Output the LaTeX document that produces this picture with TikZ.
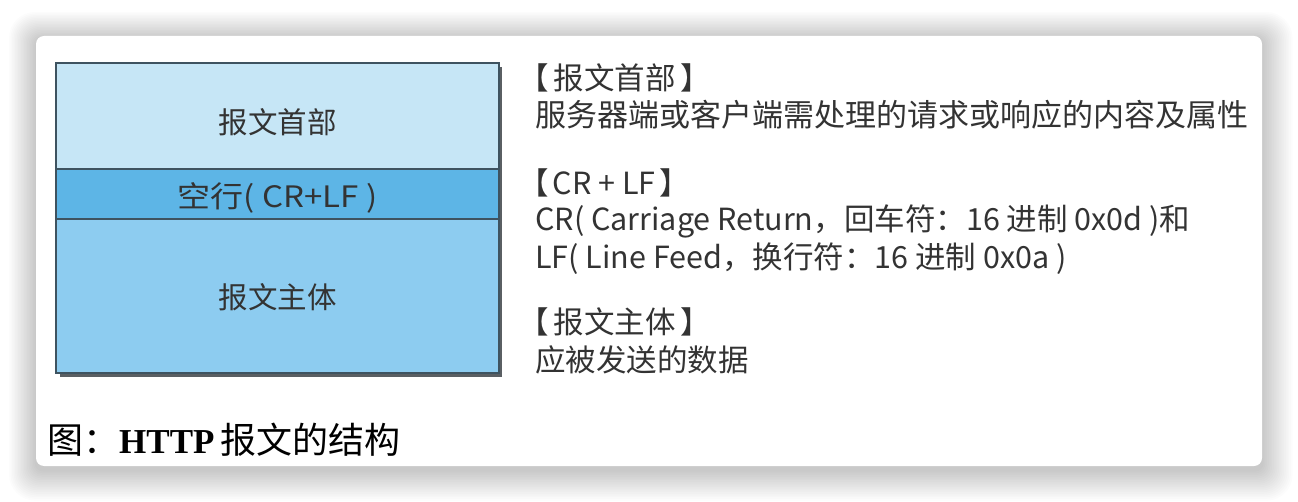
\documentclass[tikz,border=0pt]{standalone}
\usepackage{fontspec}
\setmainfont{Liberation Serif}
\newfontfamily\cjk{Noto Sans CJK SC}
\definecolor{hdrc}{HTML}{C6E6F6}
\definecolor{crlfc}{HTML}{5DB5E6}
\definecolor{bodyc}{HTML}{8DCCF0}
\definecolor{edgec}{HTML}{3E5360}
\definecolor{txtc}{HTML}{333333}
\definecolor{shadc}{HTML}{5A5F63}
\tikzset{
  part/.style={draw=edgec, line width=2pt, anchor=north west, minimum width=443pt,
    inner sep=0pt, text=txtc, font=\cjk\fontsize{29.5}{32}\selectfont},
  desc/.style={anchor=west, inner sep=0pt, text=txtc, font=\cjk\fontsize{30.5}{33}\selectfont},
}
\newcommand{\lowerby}[2]{\raisebox{0pt}[\dimexpr\height+#1\relax][\depth]{#2}}
\begin{document}
\begin{tikzpicture}[x=1pt,y=-1pt]
\useasboundingbox (0,0) rectangle (1298,502);
\fill[white] (0,0) rectangle (1298,502);
\foreach \i in {1,...,18}{
  \pgfmathsetmacro\r{8+\i}
  \fill[black,opacity=0.010,rounded corners=\r pt] (36-1.5*\i,36-1.5*\i+3) rectangle (1262+1.7*\i,466+1.7*\i+4);
}
\fill[white, rounded corners=8pt] (36,36) rectangle (1262,466);
% shadow of the box
\fill[shadc] (60,67) rectangle (502,377);
\node[part, fill=hdrc, minimum height=106pt] (hdr) at (55,62) {\lowerby{12pt}{报文首部}};
\node[part, fill=crlfc, minimum height=50pt] (crlf) at (55,168) {\lowerby{7pt}{\scalebox{1.12}[1]{空行( CR+LF )}}};
\node[part, fill=bodyc, minimum height=154pt] (body) at (55,218) {\lowerby{2pt}{报文主体}};
% descriptions
\node[desc] (t1) at (518,78) {【\hspace{5pt}报文首部\hspace{5pt}】};
\node[desc, font=\cjk\fontsize{31}{33}\selectfont] (d1) at (535,115) {服务器端或客户端需处理的请求或响应的内容及属性};
\node[desc] (t2) at (518,183) {【\hspace{4pt}CR + LF\hspace{4pt}】};
\node[desc] (d2) at (535,221) {CR( Carriage Return，回车符：16 进制 0x0d )和};
\node[desc] (d3) at (535,259) {LF( Line Feed，换行符：16 进制 0x0a )};
\node[desc] (t3) at (518,322) {【\hspace{5pt}报文主体\hspace{5pt}】};
\node[desc] (d4) at (535,360) {应被发送的数据};
% caption
\node[anchor=west, inner sep=0pt, font=\fontsize{36}{40}\selectfont] (cap) at (47,440)
  {{\cjk 图：}{\fontsize{35}{40}\selectfont\textbf{HTTP}}\hspace{6pt}{\cjk 报文的结构}};
\end{tikzpicture}
\end{document}
